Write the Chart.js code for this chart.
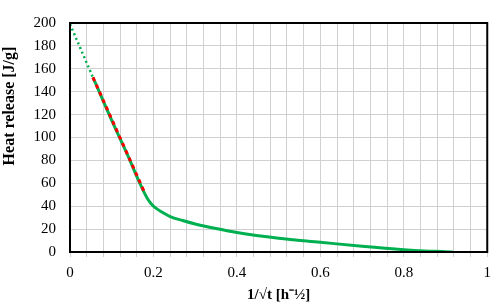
<!DOCTYPE html>
<html>
<head>
<meta charset="utf-8">
<script src="https://cdn.jsdelivr.net/npm/chart.js@4/dist/chart.umd.min.js"></script>
<style>
  html, body { margin: 0; padding: 0; background: #fff; }
  #wrap { width: 498px; height: 308px; }
</style>
</head>
<body>
<div id="wrap"><canvas id="chart"></canvas></div>
<script>
// measured curve
const curveX = [0.055, 0.07, 0.1, 0.12, 0.14, 0.16, 0.175, 0.185, 0.195, 0.205, 0.22, 0.24, 0.27, 0.3, 0.35, 0.4, 0.5, 0.6, 0.7, 0.8, 0.85, 0.9, 0.917];
const curveY = [152.5, 140, 115, 99, 83, 66, 54, 47, 42, 38.5, 35, 31, 27.5, 24.5, 20.5, 17, 12, 8.5, 5, 2, 0.9, 0.3, 0];
// linear fit (red dashed) and its extrapolation to 1/sqrt(t)=0 (green dotted)
const fitX = [0.055, 0.18];
const fitY = [152.5, 51];
const extX = [0, 0.055];
const extY = [199, 152.5];
// tick labels
const xTickLabels = ["0", "0.2", "0.4", "0.6", "0.8", "1"];
const yTickLabels = ["0", "20", "40", "60", "80", "100", "120", "140", "160", "180", "200"];

const pts = (xs, ys) => xs.map((x, i) => ({ x: x, y: ys[i] }));

const serif = "'Liberation Serif', 'Times New Roman', serif";

// black frame round the plot + y title (sits a bit above centre in the original)
const frame = {
  id: "frame",
  afterDraw: (chart) => {
    const { ctx, chartArea: a } = chart;
    ctx.save();
    ctx.strokeStyle = "#000";
    ctx.lineWidth = 2;
    ctx.strokeRect(a.left, a.top, a.right - a.left, a.bottom - a.top);
    ctx.translate(10, 106);
    ctx.rotate(-Math.PI / 2);
    ctx.fillStyle = "#000";
    ctx.font = "bold 16px " + serif;
    ctx.textAlign = "center";
    ctx.textBaseline = "middle";
    ctx.fillText("Heat release [J/g]", 0, 0);
    ctx.restore();
  },
};

new Chart(document.getElementById("chart"), {
  type: "scatter",
  data: {
    datasets: [
      {
        data: pts(fitX, fitY),
        showLine: true,
        borderColor: "#ff0000",
        borderWidth: 3,
        borderDash: [4, 4],
        pointRadius: 0,
      },
      {
        data: pts(curveX, curveY),
        showLine: true,
        borderColor: "#00b050",
        borderWidth: 3,
        cubicInterpolationMode: "monotone",
        pointRadius: 0,
      },
      {
        data: pts(extX, extY),
        showLine: true,
        borderColor: "#00b050",
        borderWidth: 2.5,
        borderDash: [2, 3],
        pointRadius: 0,
      },
    ],
  },
  options: {
    responsive: true,
    maintainAspectRatio: false,
    animation: false,
    layout: { padding: { top: 9, right: 7, left: 0, bottom: 0 } },
    plugins: { legend: { display: false }, tooltip: { enabled: false } },
    scales: {
      x: {
        type: "linear",
        min: 0,
        max: 1,
        afterFit: (s) => { s.height = 56; },
        border: { display: false },
        grid: { color: "#d0d0d0", lineWidth: 1, tickLength: 5 },
        ticks: {
          stepSize: 0.04,
          autoSkip: false,
          maxRotation: 0,
          padding: 7,
          color: "#000",
          font: { family: serif, size: 15 },
          callback: function (value) {
            const k = value * 5;
            if (Math.abs(k - Math.round(k)) < 1e-6) return xTickLabels[Math.round(k)];
            return "";
          },
        },
        title: {
          display: true,
          text: "1/\u221At [h\u207B\u00BD]",
          color: "#000",
          font: { family: serif, size: 15, weight: "bold" },
          padding: { top: 2, bottom: 4 },
        },
      },
      y: {
        min: 0,
        max: 200,
        afterFit: (s) => { s.width = 70; },
        border: { display: false },
        grid: { color: "#d0d0d0", lineWidth: 1, drawTicks: false },
        ticks: {
          stepSize: 20,
          padding: 14,
          color: "#000",
          font: { family: serif, size: 15 },
          callback: function (value) {
            return yTickLabels[Math.round(value / 20)];
          },
        },
      },
    },
  },
  plugins: [frame],
});
</script>
</body>
</html>
